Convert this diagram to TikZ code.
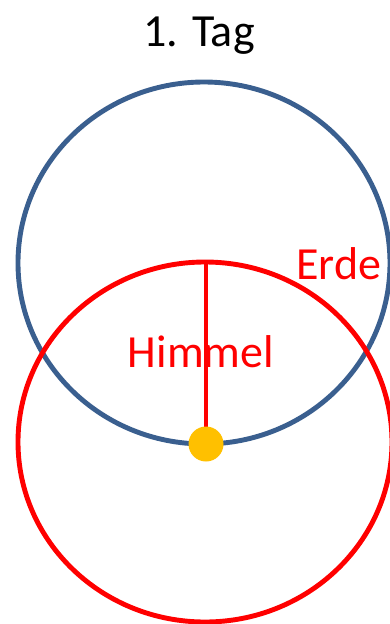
\documentclass[tikz,border=0pt]{standalone}
\usepackage{fontspec}
\setmainfont{Carlito}
\definecolor{earthblue}{HTML}{3A5F8F}
\definecolor{skyred}{HTML}{FF0000}
\definecolor{sunorange}{HTML}{FFC000}
\tikzset{
  ring/.style={line width=4.9pt},
  label45/.style={anchor=base, inner sep=0pt, font=\fontsize{46}{55}\selectfont}
}
\begin{document}
\begin{tikzpicture}[x=1pt,y=-1pt]
\useasboundingbox (0,0) rectangle (390,624);
\node[label45, text=black] (title) at (199,46) {1. Tag};
\draw[ring, earthblue] (204,263) ellipse [x radius=186, y radius=181];
\draw[ring, skyred] (205,442) ellipse [x radius=187, y radius=180];
\coordinate (zenith) at (206,262);
\coordinate (sunpos) at (206,444);
\draw[ring, skyred] (zenith) -- (sunpos);
\node[circle, fill=sunorange, minimum size=35pt, inner sep=0pt] (sun) at (sunpos) {};
\node[label45, text=skyred] (erde) at (339,279) {Erde};
\node[label45, text=skyred] (himmel) at (201,367) {Himmel};
\end{tikzpicture}
\end{document}
